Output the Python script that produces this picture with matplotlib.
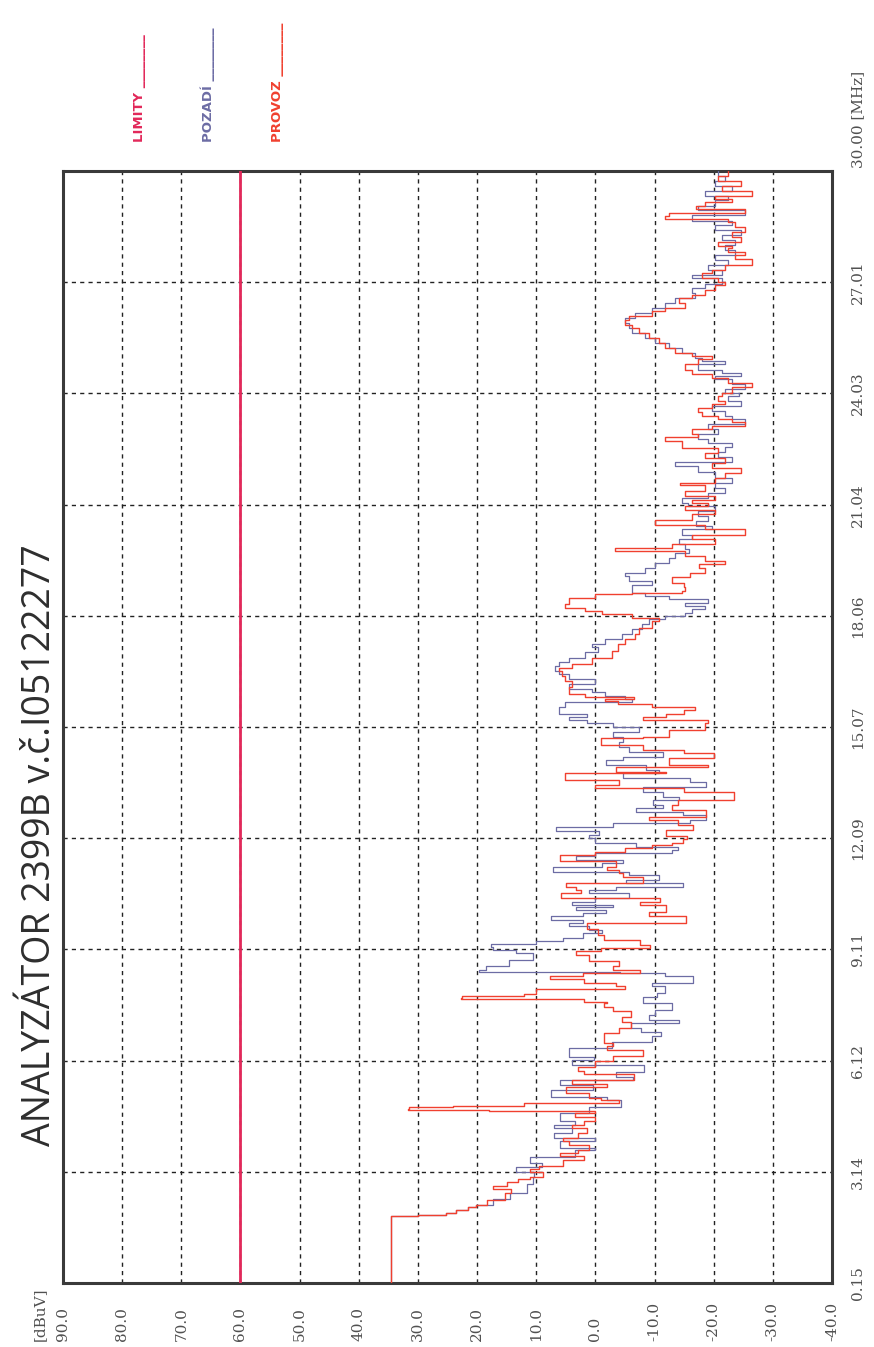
import matplotlib
matplotlib.use("Agg")
import matplotlib.pyplot as plt
import matplotlib.transforms as mtransforms

# level axis (dBuV) and frequency axis (MHz) ticks
level_ticks = [90, 80, 70, 60, 50, 40, 30, 20, 10, 0, -10, -20, -30, -40]
level_labels = ["90.0", "80.0", "70.0", "60.0", "50.0", "40.0", "30.0", "20.0",
                "10.0", "0.0", "-10.0", "-20.0", "-30.0", "-40.0"]
freq_ticks = [0.15, 3.14, 6.12, 9.11, 12.09, 15.07, 18.06, 21.04, 24.03, 27.01, 30.00]
freq_labels = ["0.15", "3.14", "6.12", "9.11", "12.09", "15.07", "18.06", "21.04",
               "24.03", "27.01", "30.00 [MHz]"]

limit_level = 60.0

# PROVOZ (red trace)
provoz_mhz = [0.15, 1.95, 1.98, 2.03, 2.10, 2.19, 2.25, 2.38, 2.57, 2.68, 2.75, 2.85,
              2.95, 3.00, 3.14, 3.22, 3.30, 3.45, 3.55, 3.65, 3.72, 3.85, 3.95, 4.05,
              4.17, 4.30, 4.40, 4.50, 4.60, 4.70, 4.76, 4.79, 4.82, 4.87, 4.90, 4.97,
              5.05, 5.12, 5.25, 5.40, 5.50, 5.60, 5.75, 5.85, 5.95, 6.10, 6.25, 6.41,
              6.50, 6.60, 6.86, 7.00, 7.15, 7.30, 7.45, 7.55, 7.66, 7.70, 7.78, 7.80,
              7.86, 7.92, 8.05, 8.12, 8.20, 8.30, 8.38, 8.47, 8.56, 8.65, 8.80, 8.95,
              9.05, 9.15, 9.23, 9.36, 9.50, 9.65, 9.81, 9.99, 10.12, 10.30, 10.39, 10.48,
              10.61, 10.70, 10.79, 10.88, 11.06, 11.15, 11.24, 11.33, 11.47, 11.65, 11.72, 11.82,
              11.91, 11.95, 12.07, 12.16, 12.31, 12.45, 12.58, 12.67, 12.85, 12.98, 13.12, 13.34,
              13.43, 13.52, 13.65, 13.83, 13.88, 14.01, 14.05, 14.23, 14.37, 14.46, 14.59, 14.77,
              14.81, 14.99, 15.17, 15.25, 15.34, 15.43, 15.52, 15.61, 15.70, 15.78, 15.83, 15.88,
              15.97, 16.14, 16.32, 16.45, 16.58, 16.67, 16.76, 16.94, 17.12, 17.30, 17.43, 17.56,
              17.74, 17.92, 18.01, 18.10, 18.19, 18.28, 18.37, 18.55, 18.64, 18.68, 18.73, 18.82,
              18.95, 19.09, 19.22, 19.35, 19.44, 19.53, 19.67, 19.80, 19.89, 19.98, 20.11, 20.24,
              20.38, 20.51, 20.64, 20.78, 20.91, 21.00, 21.09, 21.18, 21.27, 21.40, 21.58, 21.62,
              21.76, 21.89, 22.02, 22.16, 22.29, 22.42, 22.56, 22.76, 22.85, 22.94, 23.07, 23.16,
              23.25, 23.34, 23.43, 23.52, 23.65, 23.74, 23.83, 23.96, 24.05, 24.19, 24.32, 24.45,
              24.54, 24.67, 24.81, 24.94, 25.03, 25.12, 25.25, 25.39, 25.52, 25.65, 25.78, 25.87,
              25.99, 26.10, 26.23, 26.32, 26.45, 26.58, 26.67, 26.81, 26.94, 27.03, 27.12, 27.25,
              27.34, 27.48, 27.65, 27.74, 27.83, 27.92, 28.00, 28.09, 28.23, 28.36, 28.49, 28.63,
              28.72, 28.78, 28.88, 28.98, 29.07, 29.16, 29.25, 29.34, 29.47, 29.61, 29.74, 29.87,
              30.00]
provoz_dbuv = [34.6, 34.6, 30.0, 25.3, 23.5, 21.6, 20.1, 18.3, 15.3, 14.2, 17.3, 15.0,
               13.0, 11.1, 8.9, 11.0, 9.5, 5.5, 2.0, 6.0, 3.0, 1.0, 4.5, 5.5,
               3.0, 1.5, 4.0, 2.0, 0.0, 3.5, 0.0, 18.0, 31.7, 31.5, 24.0, 12.0,
               -4.0, -1.0, 1.0, 5.0, -2.0, 4.0, -6.5, 2.0, 3.0, 0.0, -3.0, -8.0,
               -2.0, -3.0, -1.5, -4.0, -6.0, -4.5, -6.0, -3.0, -1.5, -2.0, 2.0, 22.7,
               22.5, 12.0, 10.0, -5.0, -3.5, 2.0, 7.7, 2.1, -7.5, -3.0, -4.0, 1.0,
               3.2, -1.0, -9.3, -7.5, -1.5, -0.5, 1.5, -15.3, -9.0, -12.0, -7.5, -11.0,
               5.8, 2.5, 3.2, 4.9, -8.0, -4.6, -4.0, -2.0, -3.5, 6.0, 0.0, -5.0,
               -9.5, -13.0, -14.8, -15.5, -12.0, -16.5, -14.0, -9.0, -18.7, -13.0, -14.0, -23.5,
               -15.0, 0.0, -4.0, 5.2, -12.0, -3.5, -19.0, -12.5, -20.0, -15.0, -8.0, -1.0,
               -8.0, -12.5, -18.5, -19.1, -8.0, -12.0, -15.0, -16.9, -9.5, -3.9, -1.7, -6.5,
               1.7, 4.5, 4.0, 5.1, 5.6, 6.2, 4.0, 0.6, -2.8, -3.9, -5.0, -6.7,
               -7.3, -9.5, -10.7, -6.2, -1.1, 1.7, 5.1, 4.5, 0.0, -6.2, -14.7, -15.2,
               -15.0, -12.9, -16.0, -18.6, -17.5, -21.9, -18.6, -15.2, -3.4, -12.9, -20.2, -16.3,
               -25.3, -18.6, -10.1, -16.3, -20.2, -15.2, -19.1, -16.3, -20.2, -15.2, -18.6, -14.3,
               -20.2, -21.9, -24.7, -19.7, -21.9, -18.6, -20.8, -14.6, -11.8, -17.4, -16.3, -19.7,
               -25.3, -23.1, -20.8, -18.0, -17.4, -19.7, -21.9, -20.8, -21.4, -23.1, -26.4, -22.5,
               -19.7, -16.3, -15.2, -17.4, -19.7, -16.3, -13.5, -11.8, -10.7, -9.0, -7.3, -6.2,
               -5.0, -5.6, -9.5, -11.8, -15.2, -14.1, -16.3, -18.6, -20.2, -21.9, -20.8, -18.0,
               -19.7, -21.9, -26.4, -23.6, -25.3, -22.5, -23.1, -20.8, -24.7, -23.1, -25.3, -23.6,
               -22.5, -11.8, -12.4, -25.3, -17.0, -18.6, -23.1, -20.2, -26.4, -21.4, -24.7, -20.8,
               -22.5]

# POZADI (blue trace)
pozadi_mhz = [0.15, 1.95, 1.98, 2.03, 2.10, 2.19, 2.25, 2.40, 2.57, 2.82, 3.00, 3.14,
              3.27, 3.36, 3.54, 3.72, 3.77, 3.95, 4.04, 4.17, 4.30, 4.40, 4.50, 4.70,
              4.88, 5.06, 5.15, 5.33, 5.47, 5.60, 5.69, 5.82, 6.00, 6.14, 6.23, 6.45,
              6.63, 6.77, 6.90, 6.99, 7.12, 7.21, 7.35, 7.48, 7.66, 7.84, 7.93, 8.11,
              8.20, 8.38, 8.47, 8.51, 8.56, 8.65, 8.82, 9.00, 9.09, 9.18, 9.25, 9.32,
              9.40, 9.54, 9.63, 9.72, 9.81, 9.90, 10.00, 10.07, 10.16, 10.25, 10.30, 10.39,
              10.48, 10.61, 10.70, 10.79, 10.88, 10.97, 11.10, 11.19, 11.33, 11.42, 11.51, 11.60,
              11.69, 11.78, 11.86, 11.95, 12.09, 12.18, 12.27, 12.38, 12.49, 12.58, 12.71, 12.80,
              12.89, 12.98, 13.12, 13.20, 13.34, 13.47, 13.61, 13.70, 13.83, 13.92, 14.05, 14.19,
              14.28, 14.41, 14.55, 14.68, 14.81, 14.95, 15.07, 15.17, 15.25, 15.34, 15.43, 15.61,
              15.74, 15.83, 15.92, 16.01, 16.10, 16.23, 16.36, 16.50, 16.59, 16.72, 16.81, 16.94,
              17.08, 17.21, 17.30, 17.43, 17.56, 17.70, 17.83, 17.97, 18.06, 18.14, 18.23, 18.32,
              18.41, 18.50, 18.59, 18.68, 18.82, 18.90, 18.99, 19.13, 19.22, 19.35, 19.49, 19.62,
              19.75, 19.84, 19.98, 20.11, 20.24, 20.38, 20.47, 20.60, 20.73, 20.86, 21.00, 21.09,
              21.22, 21.35, 21.49, 21.62, 21.76, 21.93, 22.07, 22.20, 22.33, 22.47, 22.60, 22.69,
              22.80, 22.94, 23.07, 23.20, 23.34, 23.43, 23.56, 23.69, 23.83, 23.96, 24.05, 24.14,
              24.28, 24.41, 24.50, 24.58, 24.67, 24.81, 24.90, 24.98, 25.12, 25.25, 25.39, 25.52,
              25.65, 25.78, 25.92, 26.05, 26.19, 26.32, 26.45, 26.58, 26.72, 26.85, 26.98, 27.12,
              27.21, 27.34, 27.48, 27.61, 27.74, 27.88, 28.01, 28.14, 28.27, 28.41, 28.54, 28.67,
              28.81, 28.94, 29.07, 29.21, 29.34, 29.47, 29.61, 29.74, 29.87, 30.00]
pozadi_dbuv = [34.6, 34.6, 30.0, 25.3, 23.5, 21.6, 20.1, 17.3, 14.5, 11.5, 10.5, 10.4,
               13.4, 9.0, 11.0, 3.5, 0.0, 6.0, 0.0, 7.0, 4.0, 7.0, 3.5, 6.0,
               1.0, -4.4, -2.0, 7.5, 0.4, 6.0, -6.3, -3.5, -8.3, 4.0, 0.3, 4.5,
               -2.8, -9.6, -11.1, -7.7, -6.1, -14.2, -9.0, -10.0, -13.0, -8.0, -10.5, -11.8,
               -9.5, -16.5, -11.8, -4.1, 19.6, 18.5, 14.6, 10.5, 13.4, 17.3, 17.6, 10.0,
               5.5, 2.1, -1.2, 1.0, 4.4, 2.1, 7.5, 2.1, -1.8, 3.3, -2.9, 3.9,
               0.0, -5.7, 1.0, -3.5, -14.8, -5.2, -10.8, -5.7, 7.2, -1.2, -4.6, 3.3,
               0.0, -12.9, -14.0, -6.9, 0.0, 1.0, -0.6, 6.6, -3.0, -16.0, -18.7, -14.8,
               -6.9, -11.4, -9.7, -14.2, -11.4, -8.0, -18.7, -16.0, -4.6, -10.8, -8.6, -1.8,
               -4.6, -11.4, -5.7, -4.0, -4.6, -2.9, -7.4, -3.0, 1.5, 4.5, 1.5, 6.2,
               5.1, -6.2, -5.0, -1.7, 0.6, 4.5, 0.0, 4.5, 6.2, 6.8, 6.2, 4.5,
               1.7, -0.5, 0.6, -1.7, -4.5, -6.2, -7.8, -9.0, -11.8, -15.2, -16.3, -18.6,
               -15.2, -19.1, -12.4, -8.4, -6.2, -6.2, -9.5, -5.6, -5.0, -8.4, -10.1, -12.4,
               -13.5, -15.8, -15.2, -14.1, -16.3, -14.7, -19.7, -17.0, -19.1, -17.4, -20.2, -15.7,
               -14.7, -19.1, -21.9, -20.2, -23.1, -20.2, -17.4, -13.5, -23.1, -20.8, -21.9, -23.1,
               -19.1, -17.4, -20.8, -19.1, -25.3, -23.1, -21.9, -19.7, -24.7, -22.5, -24.2, -21.9,
               -25.3, -23.1, -20.2, -24.7, -21.4, -17.4, -21.9, -18.0, -16.9, -14.7, -12.4, -10.1,
               -8.4, -6.2, -5.6, -5.0, -6.7, -9.5, -11.8, -13.5, -16.9, -16.3, -18.6, -21.4,
               -16.3, -21.4, -19.1, -22.5, -20.2, -23.6, -21.9, -23.6, -21.4, -24.7, -20.2, -23.1,
               -16.3, -25.3, -17.4, -20.2, -22.5, -18.6, -23.1, -20.2, -21.9, -20.8]

W, H = 874, 1347
fig = plt.figure(figsize=(W / 100, H / 100), dpi=100)
fig.patch.set_facecolor("white")

left, right, top, bottom = 63, 832, 171, 1283
ax = fig.add_axes([left / W, 1 - bottom / H, (right - left) / W, (bottom - top) / H])

# chart is drawn turned by 90 degrees: level runs across, frequency runs up
ax.plot(pozadi_dbuv, pozadi_mhz, color="#6c6ca4", lw=0.9, drawstyle="steps-post", zorder=3)
ax.plot(provoz_dbuv, provoz_mhz, color="#f0402f", lw=1.0, drawstyle="steps-post", zorder=4)
ax.axvline(limit_level, color="#e2285a", lw=2.0, zorder=5)

ax.set_xlim(90, -40)
ax.set_ylim(0.15, 30.0)
ax.set_xticks(level_ticks)
ax.set_yticks(freq_ticks)
ax.tick_params(length=0, labelbottom=False, labelleft=False)
ax.grid(True, color="#222222", ls=(0, (3, 3)), lw=1.0, zorder=1)
for sp in ax.spines.values():
    sp.set_color("#3a3a3a")
    sp.set_linewidth(2.2)

lab_font = dict(family=["DejaVu Serif"], size=11, color="#505050")

# level labels along the bottom, read bottom to top
tr_x = mtransforms.blended_transform_factory(ax.transData, fig.transFigure)
for v, s in zip(level_ticks, level_labels):
    ax.text(v, 1 - 1341 / H, s, transform=tr_x, rotation=90,
            ha="center", va="bottom", **lab_font)
fig.text(40 / W, 1 - 1341 / H, "[dBuV]", rotation=90, ha="center", va="bottom", **lab_font)

# frequency labels on the right side
tr_y = mtransforms.blended_transform_factory(fig.transFigure, ax.transData)
for v, s in zip(freq_ticks[:-1], freq_labels[:-1]):
    ax.text(858 / W, v, s, transform=tr_y, rotation=90,
            ha="center", va="center", **lab_font)
fig.text(858 / W, 1 - 168 / H, freq_labels[-1], rotation=90, ha="center", va="bottom", **lab_font)

# title
fig.text(40 / W, 1 - 845 / H, "ANALYZÁTOR 2399B v.č.I05122277", rotation=90,
         ha="center", va="center", family=["Open Sans", "DejaVu Sans"], size=27, color="#2e2e2e")

# legend
legend_items = [("LIMITY ________", "#e2285a", 140), ("POZADÍ ________", "#6c6ca4", 208),
                ("PROVOZ ________", "#f0402f", 277)]
for s, c, xp in legend_items:
    fig.text(xp / W, 1 - 142 / H, s, rotation=90, ha="center", va="bottom",
             family=["Liberation Sans Narrow", "DejaVu Sans"], weight="bold", size=9.5, color=c)

fig.savefig("out.png", dpi=100)
